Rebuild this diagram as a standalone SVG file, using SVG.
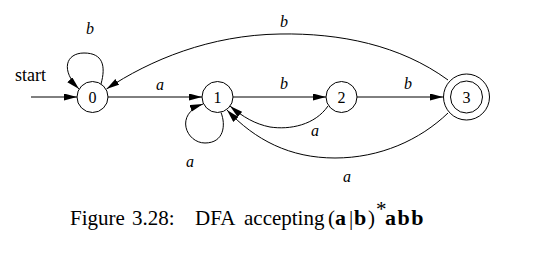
<svg xmlns="http://www.w3.org/2000/svg" width="557" height="253" viewBox="0 0 557 253">
<style>
  .node { fill: #fff; stroke: #000; stroke-width: 1; }
  .edge { fill: none; stroke: #000; stroke-width: 1; }
  .lbl { font-family: "Liberation Serif", serif; font-style: italic; font-size: 16px; fill: #000; text-anchor: middle; }
  .num { font-family: "Liberation Serif", serif; font-size: 16px; fill: #000; text-anchor: middle; }
  .txt { font-family: "Liberation Serif", serif; font-size: 18px; fill: #000; }
  .cap { font-family: "Liberation Serif", serif; font-size: 21px; fill: #000; }
  .bold { font-weight: bold; font-size: 22px; }
</style>
<defs>
  <marker id="arrow" markerUnits="userSpaceOnUse" markerWidth="14" markerHeight="8" refX="13" refY="3.5" orient="auto">
    <path d="M0,0 L13,3.5 L0,7 z" fill="#000"/>
  </marker>
</defs>
<rect width="557" height="253" fill="#fff"/>
<g id="connectors">
  <line class="edge" x1="31" y1="97" x2="77" y2="97" marker-end="url(#arrow)"/>
  <path class="edge" d="M101,84 C106,66 103,53 84,53 C66,53 60,70 79,89" marker-end="url(#arrow)"/>
  <line class="edge" x1="108" y1="97" x2="202" y2="97" marker-end="url(#arrow)"/>
  <path class="edge" d="M221,112.5 C226,125 224,143 205,143 C186,143 174,114 203,104" marker-end="url(#arrow)"/>
  <line class="edge" x1="233" y1="97" x2="326" y2="97" marker-end="url(#arrow)"/>
  <line class="edge" x1="357" y1="97" x2="443" y2="97" marker-end="url(#arrow)"/>
  <path class="edge" d="M328,106 C315,125 290,130 270,127 C255,124 243,117 230,106" marker-end="url(#arrow)"/>
  <path class="edge" d="M448,113 C420,140 380,158 335,158 C290,158 255,140 227,110" marker-end="url(#arrow)"/>
  <path class="edge" d="M448,80 C400,45 340,33 280,34 C210,35 150,60 106.5,89" marker-end="url(#arrow)"/>
  <text class="txt" x="15" y="81">start</text>
  <text class="lbl" x="90" y="34">b</text>
  <text class="lbl" x="160" y="90">a</text>
  <text class="lbl" x="190" y="167">a</text>
  <text class="lbl" x="284" y="89">b</text>
  <text class="lbl" x="408" y="89">b</text>
  <text class="lbl" x="315" y="136">a</text>
  <text class="lbl" x="347" y="182">a</text>
  <text class="lbl" x="284" y="27">b</text>
</g>
<g id="node0">
  <circle class="node" cx="92.5" cy="97" r="15.5"/>
  <text class="num" x="92.5" y="102.5">0</text>
</g>
<g id="node1">
  <circle class="node" cx="217.5" cy="97" r="15.5"/>
  <text class="num" x="217.5" y="102.5">1</text>
</g>
<g id="node2">
  <circle class="node" cx="341.5" cy="97" r="15.5"/>
  <text class="num" x="341.5" y="102.5">2</text>
</g>
<g id="node3">
  <circle class="node" cx="466.5" cy="97" r="23"/>
  <circle class="node" cx="466.5" cy="97" r="16"/>
  <text class="num" x="466.5" y="102.5">3</text>
</g>
<g id="caption">
  <text class="cap" x="70" y="225">Figure</text>
  <text class="cap" x="132" y="225">3.28:</text>
  <text class="cap" x="195" y="225">DFA</text>
  <text class="cap" x="244" y="225">accepting</text>
  <text class="cap" x="328" y="225">(</text>
  <text class="cap bold" x="335" y="225">a</text>
  <text class="cap" x="349" y="225">|</text>
  <text class="cap bold" x="354" y="225">b</text>
  <text class="cap" x="368" y="225">)</text>
  <text class="cap" x="376" y="216" font-size="12">*</text>
  <text class="cap bold" x="385" y="225" letter-spacing="1.5">abb</text>
</g>
</svg>
